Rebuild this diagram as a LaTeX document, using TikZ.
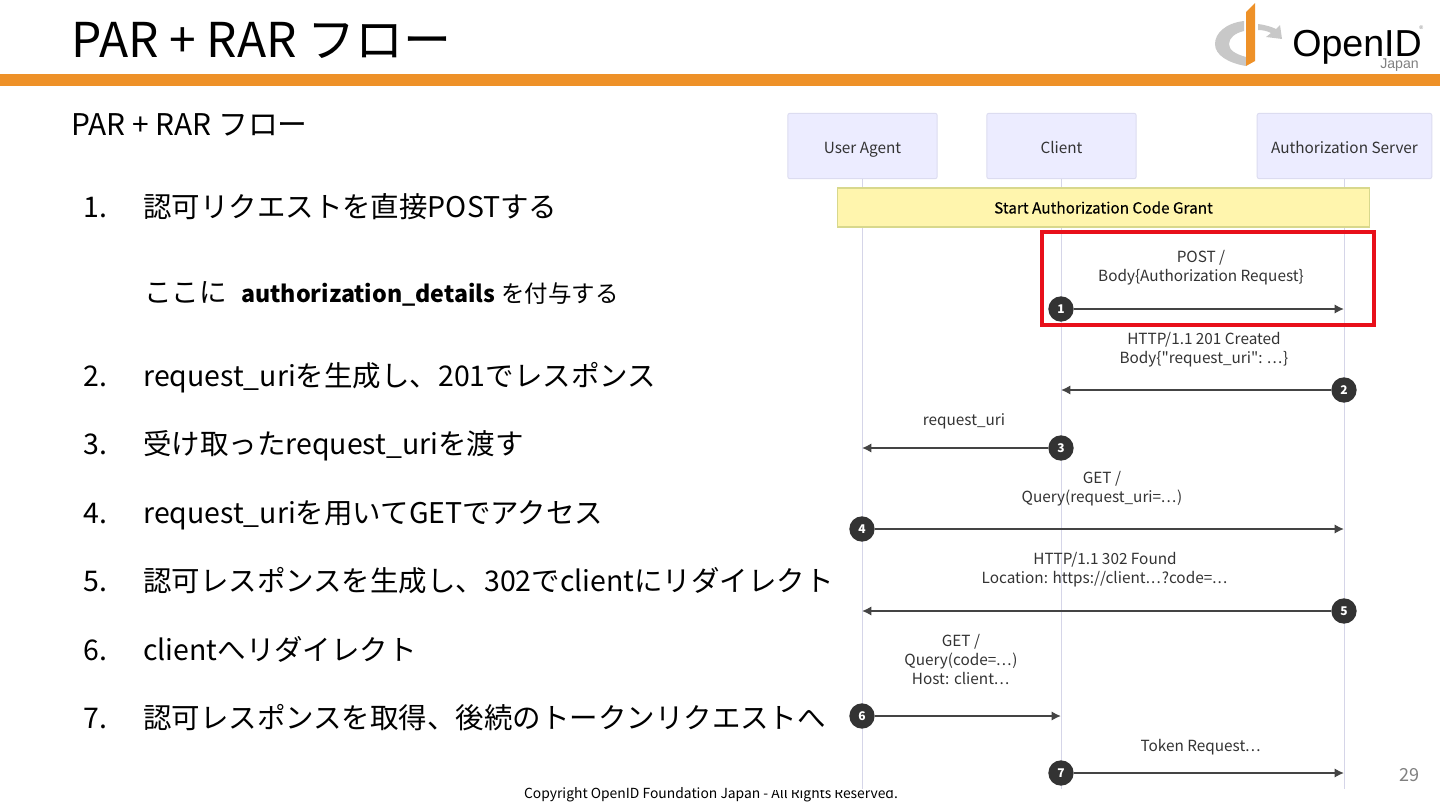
\documentclass[tikz,border=0pt]{standalone}
\usepackage{fontspec}
\setmainfont{Noto Sans CJK JP}
\newfontfamily\seqfont{Noto Sans CJK JP}
\newfontfamily\notefont[FakeBold=0.25]{Noto Sans CJK JP}
\newfontfamily\logofont{Liberation Sans}
\usetikzlibrary{arrows.meta}
\definecolor{barorange}{HTML}{EE9128}
\definecolor{actorfill}{HTML}{ECECFF}
\definecolor{actorline}{HTML}{DCDCF0}
\definecolor{lifeline}{HTML}{D5D5E8}
\definecolor{notefill}{HTML}{FFF5AD}
\definecolor{noteline}{HTML}{D8D88C}
\definecolor{seqdark}{HTML}{333333}
\definecolor{seqline}{HTML}{444444}
\definecolor{logogray}{HTML}{C8C8C8}
\definecolor{hilite}{HTML}{E8101A}
\newcommand{\fsz}[1]{\fontsize{#1}{#1}\selectfont}
\newcommand{\seqsz}{\seqfont\fontsize{11.5}{14.25}\selectfont}
\newcommand{\ld}{.\kern0.9pt.\kern0.9pt.\kern0.6pt}
\tikzset{
  x=0.75pt,y=-0.75pt,
  actorbox/.style={draw=actorline,fill=actorfill,rounded corners=1.5pt,line width=0.7pt,minimum width=112pt,minimum height=49pt,inner sep=0pt,text height=11pt,text depth=0.5pt,font=\seqsz\color{seqdark}},
  life/.style={draw=lifeline,line width=1.2pt},
  msg/.style={draw=seqline,line width=1.3pt,-{Latex[length=7pt,width=7pt]}},
  badge/.style={circle,fill=seqdark,minimum size=19pt,inner sep=0pt,text=white,font=\seqfont\bfseries\fontsize{9}{9}\selectfont},
  seqlabel/.style={align=center,font=\seqsz\color{seqdark},inner sep=0pt},
  itemnum/.style={anchor=base west,font=\fsz{21.35},inner sep=0pt},
  itemtext/.style={anchor=base west,font=\fsz{21.35},inner sep=0pt},
}
\begin{document}
\begin{tikzpicture}
\useasboundingbox (0,0) rectangle (1440,810);
\fill[white] (0,0) rectangle (1440,810);
\node[anchor=base west,inner sep=0pt,font=\fsz{36}] (title) at (71,57) {PAR + RAR フロー};
\fill[barorange] (0,74) rectangle (1440,86);
% logo
\fill[logogray] (1244,21) .. controls (1226,23) and (1215,33) .. (1215,44) .. controls (1215,55) and (1228,63) .. (1246,66) -- (1246,57) .. controls (1235,54) and (1229,50) .. (1229,44) .. controls (1229,38) and (1235,33) .. (1244,31) -- cycle;
\fill[barorange] (1246,12) -- (1255,3) -- (1255,61) -- (1246,66) -- cycle;
\fill[logogray] (1258,24) .. controls (1266,25) and (1272,27) .. (1276,29) -- (1280,25) -- (1282,39) -- (1266,37) -- (1271,33) .. controls (1267,31) and (1263,30) .. (1258,30) -- cycle;
\node[anchor=base west,inner sep=0pt,font=\logofont\fsz{28.2}] (logotext) at (1292,56) {OpenID};
\node[anchor=base west,inner sep=0pt,font=\logofont\fsz{10.6},text=gray] (logojapan) at (1380,68) {Japan};
\node[anchor=base west,inner sep=0pt,font=\logofont\fsz{4},text=gray] (logoreg) at (1419,30) {®};
% left text
\node[anchor=base west,inner sep=0pt,font=\fsz{22.4}] (sub) at (71,135) {PAR + RAR フロー};
\node[itemnum] (n1) at (83,217) {1.};
\node[itemtext] (t1) at (143,217) {認可リクエストを直接POSTする};
\node[anchor=base west,inner sep=0pt,font=\fsz{20.7}] (t1a) at (144,302) {ここに};
\node[anchor=base west,inner sep=0pt,font=\fsz{17.4}\bfseries] (t1b) at (241,302) {authorization\_details};
\node[anchor=base west,inner sep=0pt,font=\fsz{17.6}] (t1c) at (501,302) {を付与する};
\node[itemnum] (n2) at (83,386) {2.};
\node[itemtext] (t2) at (143,386) {request\_uriを生成し、201でレスポンス};
\node[itemnum] (n3) at (83,454) {3.};
\node[itemtext] (t3) at (143,454) {受け取ったrequest\_uriを渡す};
\node[itemnum] (n4) at (83,523) {4.};
\node[itemtext] (t4) at (143,523) {request\_uriを用いてGETでアクセス};
\node[itemnum] (n5) at (83,591) {5.};
\node[itemtext] (t5) at (143,591) {認可レスポンスを生成し、302でclientにリダイレクト};
\node[itemnum] (n6) at (83,660) {6.};
\node[itemtext] (t6) at (143,660) {clientへリダイレクト};
\node[itemnum] (n7) at (83,728) {7.};
\node[itemtext] (t7) at (143,728) {認可レスポンスを取得、後続のトークンリクエストへ};
% footer, its top edge hidden by the pasted image
\node[inner sep=0pt,font=\fsz{10.4}] (copy) at (711,795) {Copyright OpenID Foundation Japan - All Rights Reserved.};
\fill[white] (745,775) rectangle (905,790);
% actors
\node[actorbox] (ua) at (862.5,146) {User Agent};
\node[actorbox] (cl) at (1061.5,146) {Client};
\node[actorbox,minimum width=131pt] (as) at (1344.5,146) {Authorization Server};
\coordinate (uaend) at (862.5,789);
\coordinate (clend) at (1061.5,789);
\coordinate (asend) at (1344.5,789);
\draw[life] (ua) -- (uaend);
\draw[life] (cl) -- (clend);
\draw[life] (as) -- (asend);
% note
\node[draw=noteline,fill=notefill,line width=1.2pt,minimum width=399pt,minimum height=29pt,inner sep=0pt,font=\notefont\fsz{11.5},text=black] (note) at (1103.5,207.5) {Start Authorization Code Grant};
% messages
\coordinate (a1) at (1344,309);
\node[badge] (b1) at (1061,309) {1};
\draw[msg] (b1) -- (a1);
\node[seqlabel] (l1) at (1201,267.5) {POST /\\Body\{Authorization Request\}};
\coordinate (a2) at (1061,390);
\node[badge] (b2) at (1344,390) {2};
\draw[msg] (b2) -- (a2);
\node[seqlabel] (l2) at (1204,349.5) {HTTP/1.1 201 Created\\Body\{"request\_uri": \ld\}};
\coordinate (a3) at (862,448);
\node[badge] (b3) at (1061,448) {3};
\draw[msg] (b3) -- (a3);
\node[seqlabel] (l3) at (964,421) {request\_uri};
\coordinate (a4) at (1344,529);
\node[badge] (b4) at (862,529) {4};
\draw[msg] (b4) -- (a4);
\node[seqlabel] (l4) at (1102,488.5) {GET /\\Query(request\_uri=\ld)};
\coordinate (a5) at (862,611);
\node[badge] (b5) at (1344,611) {5};
\draw[msg] (b5) -- (a5);
\node[seqlabel] (l5) at (1105,569.5) {HTTP/1.1 302 Found\\Location: https://client\ld?code=\ld};
\coordinate (a6) at (1061,716);
\node[badge] (b6) at (862,716) {6};
\draw[msg] (b6) -- (a6);
\node[seqlabel] (l6) at (961,660) {GET /\\Query(code=\ld)\\Host: client\ld};
\coordinate (a7) at (1344,773);
\node[badge] (b7) at (1061,773) {7};
\draw[msg] (b7) -- (a7);
\node[seqlabel] (l7) at (1201,747) {Token Request\ld};
% highlight
\draw[hilite,line width=2.4pt] (1042,232) rectangle (1374,325);
\node[inner sep=0pt,font=\fsz{13.5},text=gray] (page) at (1409,775) {29};
\end{tikzpicture}
\end{document}
